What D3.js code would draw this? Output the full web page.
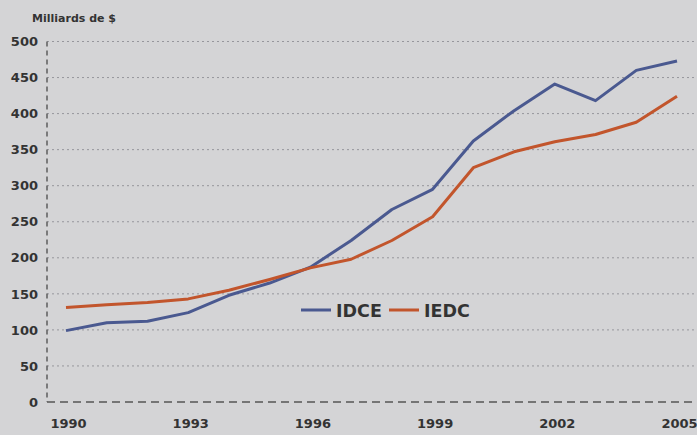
<!DOCTYPE html>
<html><head><meta charset="utf-8">
<script src="https://cdn.jsdelivr.net/npm/d3@7"></script>
<style>
html,body{margin:0;padding:0;background:#d4d4d6;}
svg{display:block;}
text{font-family:"DejaVu Sans",sans-serif;font-weight:bold;fill:#333;}
</style></head><body>
<svg id="c" width="697" height="435"></svg>
<script>
const years = [1990,1991,1992,1993,1994,1995,1996,1997,1998,1999,2000,2001,2002,2003,2004,2005];
const idce = [99,110,112,124,148,165,187,224,267,295,362,404,441,418,460,473];
const iedc = [131,135,138,143,155,170,186,198,224,257,325,347,361,371,388,424];
const yTicks = [0,50,100,150,200,250,300,350,400,450,500];
const xTicks = [1990,1993,1996,1999,2002,2005];
const seriesNames = ["IDCE","IEDC"];
const colors = ["#4a5990","#c2552c"];

const svg = d3.select("#c");
const x = d3.scaleLinear().domain([1990,2005]).range([66,677]);
const y = d3.scaleLinear().domain([0,500]).range([402,41.5]);
const axisX = 47;

// grid lines
svg.append("g").selectAll("line").data(yTicks.filter(d=>d>0)).join("line")
  .attr("x1",axisX).attr("x2",697).attr("y1",d=>y(d)).attr("y2",d=>y(d))
  .attr("stroke","#96969c").attr("stroke-width",1).attr("stroke-dasharray","2,3");

// y axis (labels via d3.axisLeft)
const ya = svg.append("g").attr("transform",`translate(${axisX},0)`)
  .call(d3.axisLeft(y).tickValues(yTicks).tickSize(0).tickPadding(9));
ya.select(".domain").remove();
ya.selectAll("text").attr("font-size",13).attr("font-family","DejaVu Sans").attr("font-weight","bold").attr("fill","#333");
svg.append("line").attr("x1",axisX).attr("x2",axisX).attr("y1",y(500)).attr("y2",y(0))
  .attr("stroke","#555").attr("stroke-width",1.4).attr("stroke-dasharray","5,4");

// x axis
const xa = svg.append("g").attr("transform",`translate(0,${y(0)})`)
  .call(d3.axisBottom(x).tickValues(xTicks).tickFormat(d3.format("d")).tickSize(0).tickPadding(17));
xa.select(".domain").remove();
xa.selectAll("text").attr("font-size",13).attr("font-family","DejaVu Sans").attr("font-weight","bold").attr("fill","#333").attr("dx",2);
svg.append("line").attr("x1",axisX).attr("x2",697).attr("y1",y(0)).attr("y2",y(0))
  .attr("stroke","#555").attr("stroke-width",1.5).attr("stroke-dasharray","8,5");

// lines
const line = d3.line().x((d,i)=>x(years[i])).y(d=>y(d));
[idce,iedc].forEach((s,k)=>{
  svg.append("path").datum(s).attr("d",line).attr("fill","none")
    .attr("stroke",colors[k]).attr("stroke-width",3).attr("stroke-linejoin","round");
});

// legend
const leg = [{x:301,tx:336},{x:389,tx:424}];
seriesNames.forEach((n,k)=>{
  svg.append("line").attr("x1",leg[k].x).attr("x2",leg[k].x+30).attr("y1",310).attr("y2",310)
    .attr("stroke",colors[k]).attr("stroke-width",3);
  svg.append("text").attr("x",leg[k].tx).attr("y",316.5).attr("font-size",17.5).text(n);
});

// unit label
svg.append("text").attr("x",32).attr("y",22).attr("font-size",11).text("Milliards de $");
</script>
</body></html>
